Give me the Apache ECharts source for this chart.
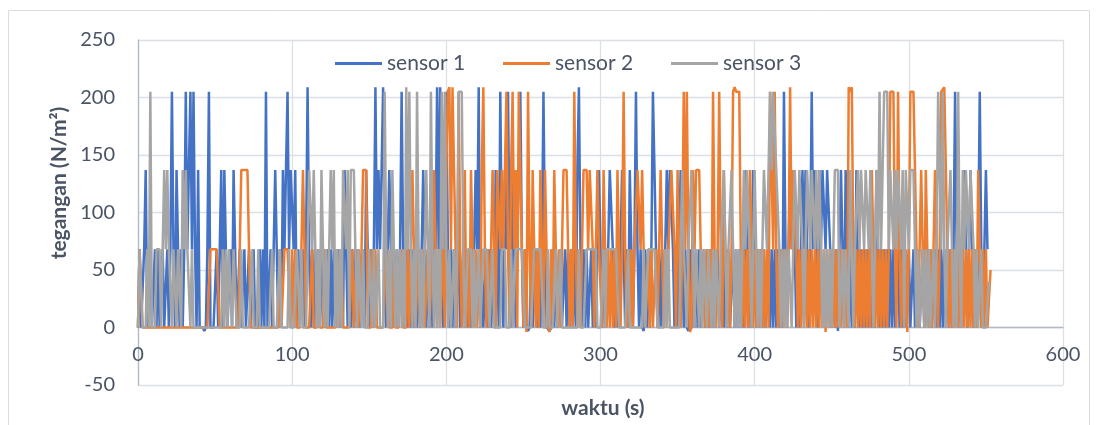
<!DOCTYPE html>
<html>
<head>
<meta charset="utf-8">
<script src="https://cdn.jsdelivr.net/npm/echarts@6/dist/echarts.min.js"></script>
<style>
html,body{margin:0;padding:0;background:#fff;}
#chart{width:1106px;height:425px;}
</style>
</head>
<body>
<div id="chart"></div>
<script>
// values per second (t = index, seconds)
const seriesNames = ['sensor 1', 'sensor 2', 'sensor 3'];
const sensor1 = [
0,68,0,0,68,137,0,0,68,0,
0,68,0,68,0,0,68,0,0,68,
0,68,205,68,0,137,68,0,68,0,
68,205,68,137,205,68,205,68,0,137,
0,0,0,-3,0,68,205,0,0,0,
0,68,0,68,137,0,137,68,0,0,
68,0,137,68,0,0,68,0,0,68,
0,0,68,0,0,68,0,0,0,68,
0,68,0,205,0,0,68,0,68,137,
68,0,68,0,137,68,137,205,68,137,
137,68,137,0,68,0,0,68,0,68,
209,68,0,68,0,68,0,68,0,0,
68,0,0,68,0,68,0,68,0,0,
68,0,68,0,137,137,0,68,0,68,
0,68,0,68,0,0,68,0,137,68,
0,68,0,68,209,68,137,68,137,209,
68,0,68,137,68,0,68,0,68,0,
68,205,68,0,68,0,68,0,68,0,
68,0,68,0,68,137,68,0,68,0,
68,0,137,68,209,68,209,68,0,68,
205,68,0,68,0,68,0,0,68,0,
0,68,0,68,0,68,0,0,68,137,
68,209,0,68,0,0,68,0,68,0,
68,0,137,68,0,205,68,0,137,68,
205,68,0,137,68,0,68,137,205,68,
0,68,0,-3,0,68,0,0,68,0,
68,0,68,205,68,0,0,-3,0,68,
0,68,0,0,68,0,0,68,0,68,
0,68,0,68,0,137,209,68,0,68,
0,68,0,0,68,0,68,0,68,137,
68,0,68,0,0,68,137,137,68,0,
68,0,0,68,137,68,0,68,0,137,
68,0,68,205,68,0,68,0,-3,68,
0,68,0,68,205,137,68,0,68,0,
68,0,68,137,68,137,137,68,0,68,
0,68,137,68,0,68,0,-3,68,0,
68,0,68,0,68,0,0,68,0,68,
0,68,0,68,0,0,68,0,0,68,
0,68,0,68,0,0,68,0,68,0,
68,0,68,0,137,68,0,68,0,137,
68,0,68,0,68,0,68,0,0,68,
0,68,0,68,0,68,0,68,0,205,
68,0,68,137,68,137,68,0,68,0,
68,137,68,137,68,0,68,205,68,137,
68,0,137,68,137,137,68,137,137,68,
0,68,0,68,-3,68,137,68,0,137,
68,0,68,0,68,0,137,68,0,68,
0,68,0,68,0,68,0,68,0,137,
68,0,68,0,68,0,68,0,68,0,
68,0,0,68,0,68,0,68,0,0,
68,0,0,68,0,0,68,0,0,68,
0,0,68,0,68,0,0,68,0,68,
0,68,0,68,0,68,0,68,0,68,
205,68,0,68,0,68,137,68,0,68,
137,68,0,68,0,68,205,68,0,68,
137,68
];
const sensor2 = [
0,68,68,0,0,0,0,0,0,0,
0,0,0,0,0,0,0,0,0,0,
0,0,0,0,0,0,0,0,0,0,
0,0,0,0,0,0,0,0,0,0,
0,0,0,0,0,0,0,68,68,68,
68,68,68,0,0,0,0,0,0,0,
0,0,0,0,0,0,0,137,137,137,
137,137,137,0,0,0,0,0,0,0,
0,0,0,0,0,0,0,0,0,0,
0,0,68,0,0,68,68,68,68,0,
68,0,68,0,0,0,0,137,137,0,
0,0,0,68,0,0,0,68,0,0,
0,68,0,0,0,0,0,0,0,68,
0,0,68,0,0,0,0,0,0,68,
0,0,68,0,0,68,137,137,137,0,
0,0,68,0,68,0,0,0,0,0,
0,68,68,0,0,0,68,0,0,0,
0,68,0,0,0,68,0,68,137,68,
0,0,68,0,0,68,0,0,68,0,
0,68,137,68,0,68,0,0,68,0,
137,205,209,68,209,137,68,0,205,68,
0,68,137,0,68,0,137,68,0,68,
0,68,0,137,209,68,0,68,0,68,
137,68,0,137,137,68,137,68,137,205,
68,0,137,205,68,137,0,205,205,68,
0,68,-4,205,68,0,137,68,0,68,
0,137,68,0,137,68,0,-4,68,0,
137,68,0,68,0,68,137,137,137,68,
0,68,0,205,68,0,68,0,68,137,
137,137,68,137,137,68,0,68,137,68,
68,0,137,68,0,68,0,68,0,68,
0,137,68,0,68,205,68,0,68,0,
68,0,68,68,137,137,68,137,68,0,
0,68,0,68,0,0,68,0,68,137,
68,0,68,0,68,68,137,137,68,0,
137,68,0,68,205,68,205,68,-4,0,
137,68,137,137,137,68,0,68,0,68,
0,68,0,205,68,0,68,205,68,0,
137,68,0,68,0,68,205,209,205,205,
205,68,0,68,0,68,0,137,68,0,
68,0,68,0,68,0,68,0,68,0,
205,205,68,205,68,0,68,0,68,0,
68,0,68,209,68,137,137,68,0,68,
0,68,0,68,0,68,0,68,0,68,
0,68,0,68,0,68,-4,68,0,68,
0,68,0,68,0,68,0,68,0,68,
0,209,205,209,68,0,68,0,68,0,
68,0,68,0,68,0,137,68,0,68,
0,68,0,68,0,68,0,68,205,205,
205,68,0,205,68,0,68,0,68,-4,
68,205,205,205,205,68,0,68,137,68,
0,137,68,0,68,0,68,137,68,0,
68,205,205,209,209,68,0,68,0,68,
0,68,0,68,0,68,0,68,0,68,
0,68,0,68,0,137,68,0,68,0,
68,0,0,50
];
const sensor3 = [
0,68,68,0,0,0,68,0,205,0,
0,0,68,68,68,0,68,137,68,137,
68,68,0,68,68,0,68,68,0,137,
68,137,68,68,0,68,0,0,0,0,
0,0,0,0,0,0,0,0,0,0,
0,0,0,0,0,68,0,68,0,68,
68,0,68,68,0,0,0,68,0,0,
0,0,0,0,68,0,0,0,68,0,
0,0,0,0,0,0,0,68,0,0,
0,0,68,0,0,0,0,0,68,0,
0,0,0,68,68,0,68,0,0,0,
68,137,137,68,137,68,0,68,0,137,
68,0,68,0,68,137,68,137,0,68,
0,68,0,137,137,68,137,0,137,137,
137,68,0,68,68,0,68,0,0,0,
68,68,0,68,0,0,68,0,0,0,
205,68,0,68,0,137,68,0,68,0,
68,0,68,0,209,68,205,68,0,68,
0,205,68,0,68,0,68,137,68,0,
205,68,0,68,0,68,0,205,68,205,
68,0,68,0,0,68,0,68,205,205,
205,68,0,0,68,68,68,0,68,0,
0,68,0,0,68,68,68,68,0,0,
68,0,0,0,0,0,68,68,68,0,
0,0,68,0,0,68,68,68,68,68,
68,0,0,0,0,0,0,68,68,68,
68,68,68,0,0,0,68,0,0,0,
0,68,0,0,68,0,0,0,0,0,
0,0,0,0,0,0,68,0,0,0,
0,68,68,68,68,68,68,68,0,0,
0,0,68,0,68,68,68,68,68,68,
68,68,0,0,0,0,0,0,68,0,
0,0,0,0,0,0,0,0,68,0,
0,68,68,68,68,68,68,0,0,0,
0,0,68,0,68,0,0,0,0,0,
0,0,0,137,68,68,0,68,68,137,
68,0,68,68,0,68,0,68,68,0,
68,68,0,68,0,68,68,0,68,68,
137,68,0,68,68,137,68,0,68,0,
68,0,68,137,68,137,137,68,0,68,
137,68,0,68,0,68,137,137,68,137,
205,137,205,205,137,137,68,0,68,0,
68,0,68,68,0,68,137,137,68,137,
137,68,0,68,137,137,68,137,137,68,
137,68,137,137,0,68,0,68,0,68,
0,68,137,137,137,0,0,68,0,68,
68,0,137,68,0,68,68,137,68,137,
137,68,137,137,68,137,68,0,68,137,
68,205,68,137,205,205,205,68,137,137,
68,137,68,137,137,68,137,0,137,137,
68,137,137,137,68,0,68,0,0,68,
0,68,0,68,0,0,68,0,68,205,
205,68,205,68,0,68,68,137,68,0,
68,0,205,68,0,137,68,137,137,68,
137,137,68,0,68,0,0,68,0,0,
0,0,40
];
const yTicks = [-50, 0, 50, 100, 150, 200, 250];
const xTicks = [0, 100, 200, 300, 400, 500, 600];
const colors = ['#4472C4', '#ED7D31', '#A5A5A5'];
const xTitle = 'waktu (s)';
const yTitle = 'tegangan (N/m²)';

const FONT = 'Lato, "Open Sans", sans-serif';
const TXT = '#4A5464';

const chart = echarts.init(document.getElementById('chart'), null, {renderer: 'canvas'});
const all = [sensor1, sensor2, sensor3];
const legendLefts = [330, 498, 666];
const plotH = 345;
const zeroOffset = -plotH * (0 - yTicks[0]) / (yTicks[yTicks.length - 1] - yTicks[0]);

chart.setOption({
  animation: false,
  backgroundColor: '#fff',
  color: colors,
  grid: {left: 138, right: 43, top: 40, bottom: 40, containLabel: false},
  legend: seriesNames.map((n, i) => ({
    data: [n], left: legendLefts[i], top: 48,
    icon: 'rect', itemWidth: 47, itemHeight: 3, itemGap: 0, itemTextGap: 8,
    textStyle: {fontFamily: FONT, fontSize: 21, color: TXT}
  })),
  xAxis: {
    type: 'value', min: xTicks[0], max: xTicks[xTicks.length - 1], interval: 100,
    offset: zeroOffset,
    axisLine: {show: true, onZero: false, lineStyle: {color: '#B0BACA', width: 1.3}},
    axisTick: {show: false},
    axisLabel: {margin: 17, fontFamily: FONT, fontSize: 20, color: TXT},
    splitLine: {show: true, lineStyle: {color: '#DCE0E6', width: 1.3}}
  },
  yAxis: {
    type: 'value', min: yTicks[0], max: yTicks[yTicks.length - 1], interval: 50,
    axisLine: {show: true, lineStyle: {color: '#B0BACA', width: 1.3}},
    axisTick: {show: false},
    axisLabel: {margin: 23, fontFamily: FONT, fontSize: 20, color: TXT},
    splitLine: {show: true, lineStyle: {color: '#DCE0E6', width: 1.3}}
  },
  series: all.map((arr, i) => ({
    name: seriesNames[i], type: 'line', symbol: 'none', smooth: false,
    lineStyle: {width: 2.5, color: colors[i]},
    itemStyle: {color: colors[i]},
    data: arr.map((v, t) => [t, v])
  })),
  graphic: [
    {type: 'rect', silent: true, shape: {x: 8.5, y: 10.5, width: 1081, height: 440},
     style: {fill: 'none', stroke: '#D9DDE3', lineWidth: 1}},
    {type: 'text', x: 59, y: 183, rotation: Math.PI / 2,
     style: {text: yTitle, fontFamily: FONT, fontSize: 21, fontWeight: 'bold', fill: TXT,
             textAlign: 'center', textVerticalAlign: 'middle'}},
    {type: 'text', x: 603, y: 408,
     style: {text: xTitle, fontFamily: FONT, fontSize: 21, fontWeight: 'bold', fill: TXT,
             textAlign: 'center', textVerticalAlign: 'middle'}}
  ]
});
</script>
</body>
</html>
